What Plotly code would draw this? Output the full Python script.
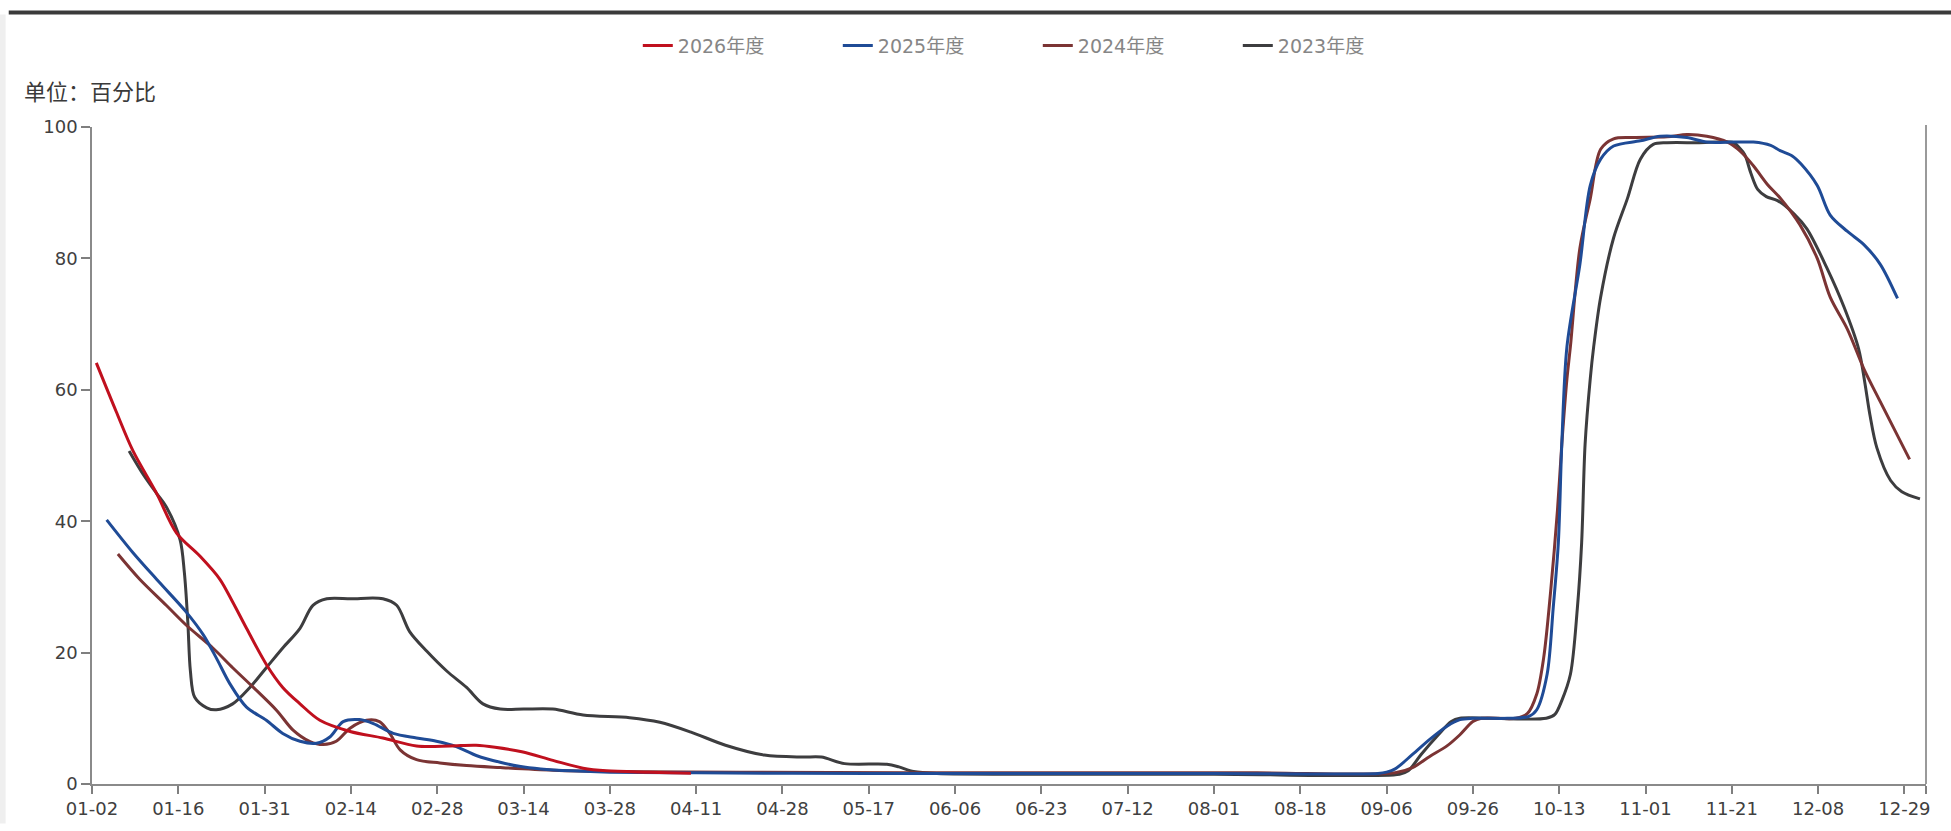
import plotly.graph_objects as go

# Tick labels of the category-like x axis (evenly spaced)
tick_labels = ["01-02", "01-16", "01-31", "02-14", "02-28", "03-14", "03-28", "04-11",
               "04-28", "05-17", "06-06", "06-23", "07-12", "08-01", "08-18", "09-06",
               "09-26", "10-13", "11-01", "11-21", "12-08", "12-29"]

# x positions are expressed in tick units (0 = 01-02, 21 = 12-29)
x_2026 = [0.05, 0.28, 0.475, 0.75, 0.98, 1.25, 1.48, 1.63, 1.79, 2.02, 2.21, 2.41, 2.64,
          2.99, 3.37, 3.76, 4.15, 4.45, 4.67, 4.98, 5.34, 5.69, 5.96, 6.45, 6.94]
y_2026 = [64.1, 56.7, 50.7, 44.2, 38.2, 34.7, 31.2, 27.7, 23.7, 18.2, 14.7, 12.2, 9.7,
          8.0, 7.0, 5.8, 5.8, 5.9, 5.6, 4.9, 3.6, 2.4, 2.0, 1.8, 1.65]

x_2025 = [0.17, 0.475, 0.78, 1.09, 1.29, 1.44, 1.60, 1.79, 2.02, 2.21, 2.41, 2.60, 2.76,
          2.91, 3.10, 3.26, 3.49, 3.76, 3.99, 4.22, 4.46, 4.73, 4.95, 5.2, 5.56, 6.0,
          7.0, 9.0, 11.0, 13.0, 14.9, 15.0, 15.1, 15.3, 15.5, 15.7, 15.85, 16.0, 16.4,
          16.65, 16.74, 16.86, 16.93, 16.99, 17.03, 17.09, 17.24, 17.36, 17.48, 17.63,
          17.94, 18.17, 18.48, 18.71, 19.02, 19.25, 19.45, 19.56, 19.70, 19.80, 19.99,
          20.14, 20.34, 20.53, 20.72, 20.92]
y_2025 = [40.2, 35.2, 30.7, 26.2, 22.7, 19.2, 15.2, 11.7, 9.7, 7.7, 6.5, 6.2, 7.2,
          9.5, 9.8, 9.2, 7.7, 7.0, 6.5, 5.7, 4.3, 3.3, 2.7, 2.3, 2.0, 1.8,
          1.7, 1.6, 1.6, 1.6, 1.6, 1.8, 2.3, 4.5, 6.8, 8.8, 9.8, 10.0, 10.0,
          10.3, 11.3, 16.7, 26.7, 36.7, 51.7, 66.6, 79.1, 91.1, 95.1, 97.1,
          97.9, 98.6, 98.4, 97.7, 97.7, 97.7, 97.2, 96.4, 95.6, 94.4, 91.1,
          86.6, 84.1, 82.1, 79.1, 73.9]

x_2024 = [0.30, 0.55, 0.86, 1.09, 1.40, 1.63, 1.87, 2.14, 2.33, 2.52, 2.68, 2.83, 2.99,
          3.18, 3.33, 3.45, 3.57, 3.76, 4.03, 4.34, 4.73, 5.34, 6.0, 7.5, 9.5, 11.5,
          13.5, 15.1, 15.3, 15.5, 15.7, 15.85, 16.0, 16.1, 16.5, 16.63, 16.74, 16.82,
          16.90, 16.98, 17.03, 17.09, 17.13, 17.24, 17.36, 17.48, 17.63, 17.86, 18.25,
          18.48, 18.71, 18.95, 19.10, 19.25, 19.41, 19.56, 19.79, 19.99, 20.14, 20.34,
          20.53, 20.72, 21.06]
y_2024 = [35.0, 31.2, 27.2, 24.2, 20.7, 17.7, 14.7, 11.2, 8.2, 6.5, 6.0, 6.5, 8.5,
          9.7, 9.5, 7.7, 5.2, 3.7, 3.2, 2.8, 2.5, 2.1, 1.9, 1.8, 1.7, 1.7,
          1.7, 1.7, 2.5, 4.2, 5.8, 7.5, 9.5, 10.0, 10.0, 10.7, 13.7, 19.2,
          29.2, 41.7, 51.7, 61.7, 66.6, 81.6, 89.1, 96.6, 98.2, 98.4, 98.5,
          98.85, 98.6, 97.7, 96.3, 94.1, 91.3, 89.2, 85.1, 80.0, 74.1, 69.2,
          63.2, 58.2, 49.4]

x_2023 = [0.43, 0.59, 0.75, 0.86, 1.02, 1.07, 1.11, 1.14, 1.19, 1.33, 1.44, 1.63, 1.83,
          2.02, 2.21, 2.41, 2.56, 2.72, 3.0, 3.37, 3.53, 3.68, 3.88, 4.11, 4.34, 4.53,
          4.73, 5.0, 5.34, 5.69, 6.23, 6.58, 6.94, 7.34, 7.79, 8.23, 8.45, 8.72, 9.21,
          9.35, 9.52, 9.79, 11.0, 13.0, 15.15, 15.25, 15.4, 15.6, 15.75, 15.85, 16.2,
          16.85, 16.95, 17.03, 17.13, 17.21, 17.26, 17.30, 17.36, 17.40, 17.48, 17.63,
          17.79, 17.94, 18.09, 18.25, 18.6, 19.02, 19.09, 19.15, 19.22, 19.30, 19.40,
          19.53, 19.72, 19.87, 20.10, 20.30, 20.47, 20.54, 20.60, 20.68, 20.84, 20.97,
          21.18]
y_2023 = [50.7, 47.2, 44.2, 42.2, 37.2, 32.2, 24.7, 17.2, 13.2, 11.6, 11.3, 12.2, 14.7,
          17.7, 20.7, 23.7, 27.2, 28.2, 28.2, 28.2, 27.2, 23.2, 20.2, 17.2, 14.7, 12.2,
          11.4, 11.4, 11.4, 10.5, 10.1, 9.4, 7.9, 5.9, 4.4, 4.1, 4.1, 3.1, 3.0,
          2.6, 1.9, 1.6, 1.5, 1.5, 1.5, 2.0, 4.5, 7.5, 9.5, 10.0, 10.0,
          10.0, 10.6, 12.7, 16.7, 26.7, 36.7, 51.7, 61.7, 66.6, 74.1, 83.1,
          89.1, 95.1, 97.35, 97.6, 97.6, 97.6, 96.8, 95.8, 93.0, 90.5, 89.4,
          88.8, 86.8, 84.5, 78.6, 72.6, 66.2, 61.2, 56.2, 51.2, 46.2, 44.5,
          43.4]

series = [
    ("2023年度", x_2023, y_2023, "#3d3d3f"),
    ("2024年度", x_2024, y_2024, "#7b3434"),
    ("2025年度", x_2025, y_2025, "#1f4b96"),
    ("2026年度", x_2026, y_2026, "#c0101e"),
]

fig = go.Figure()
for name, xs, ys, color in series:
    fig.add_trace(go.Scatter(
        x=xs, y=ys, name=name, mode="lines",
        line=dict(color=color, width=3, shape="spline", smoothing=0.9),
    ))

tick_font = dict(family="DejaVu Sans, Noto Sans CJK SC", size=18, color="#404040")

fig.update_layout(
    width=1951, height=831,
    margin=dict(l=92, r=25, t=127, b=36),
    paper_bgcolor="white", plot_bgcolor="white",
    showlegend=True,
    legend=dict(
        orientation="h", traceorder="reversed",
        x=0.2976, xanchor="left", y=1.124, yanchor="middle",
        font=dict(family="DejaVu Sans, Noto Sans CJK SC", size=19, color="#868686"),
        entrywidth=155, entrywidthmode="pixels",
        bgcolor="rgba(0,0,0,0)",
    ),
    xaxis=dict(
        range=[0, 21.25],
        tickmode="array",
        tickvals=list(range(len(tick_labels))) + [21.25],
        ticktext=tick_labels + [""],
        ticks="outside", ticklen=8, tickcolor="#7f7f7f", tickwidth=1.5,
        showline=True, linecolor="#8a8a8a", linewidth=1.5,
        showgrid=False, zeroline=False,
        tickfont=tick_font,
    ),
    yaxis=dict(
        range=[0, 100],
        tickmode="array", tickvals=[0, 20, 40, 60, 80, 100],
        ticks="outside", ticklen=9, tickcolor="#7f7f7f", tickwidth=1.5,
        showline=True, linecolor="#8a8a8a", linewidth=1.5,
        showgrid=False, zeroline=False,
        tickfont=tick_font,
    ),
    annotations=[dict(
        text="单位：百分比", xref="paper", yref="paper",
        x=-0.038, y=1.056, xanchor="left", yanchor="middle", showarrow=False,
        font=dict(family="Noto Sans CJK SC", size=22, color="#3a3a3a"),
    )],
    shapes=[
        dict(type="rect", xref="paper", yref="paper", x0=-0.0454, x1=1.02,
             y0=1.1712, y1=1.1772, fillcolor="#3a3a3a", line=dict(width=0), layer="above"),
        dict(type="rect", xref="paper", yref="paper", x0=-0.0505, x1=-0.0471,
             y0=-0.06, y1=1.1712, fillcolor="#efefef", line=dict(width=0), layer="below"),
        dict(type="line", xref="paper", yref="paper", x0=1, x1=1, y0=0, y1=1.003,
             line=dict(color="#9a9a9a", width=2)),
    ],
)

fig.write_html("out.html", config={"displayModeBar": False},
               post_script="document.body.style.margin='0';document.body.style.overflow='hidden';")
